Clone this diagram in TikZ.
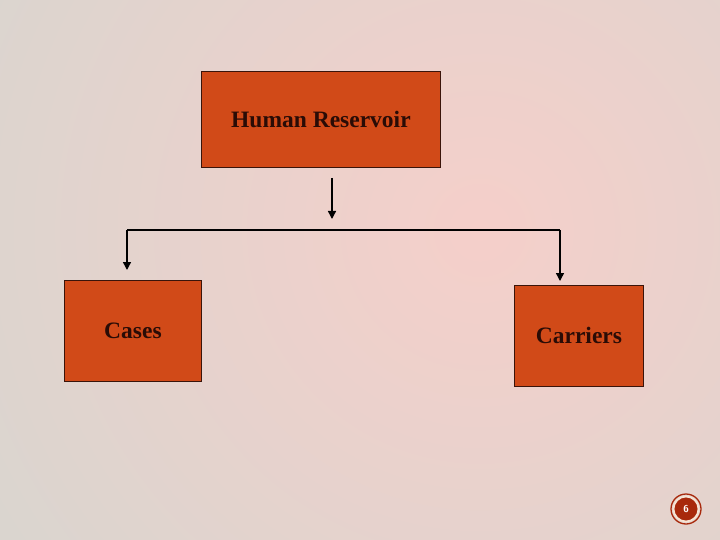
\documentclass[tikz,border=0pt]{standalone}
\usepackage{fontspec}
\setmainfont{Liberation Serif}
\usetikzlibrary{arrows.meta}
\definecolor{bgin}{HTML}{F5CFCA}
\definecolor{bgout}{HTML}{DAD5CF}
\definecolor{boxfill}{HTML}{D14A18}
\definecolor{boxline}{HTML}{3A140A}
\definecolor{txt}{HTML}{2A0C06}
\definecolor{badge}{HTML}{A8290C}
\definecolor{ring}{HTML}{F6E4D4}
\tikzset{
  box/.style={draw=boxline, line width=0.9pt, fill=boxfill, text=txt,
    font=\fontsize{23.5}{26}\selectfont\bfseries, inner sep=0pt, anchor=north west},
  conn/.style={line width=1.4pt, black},
  arr/.style={conn, -{Triangle[length=8pt,width=8pt]}}
}
\begin{document}
\begin{tikzpicture}[x=1pt,y=-1pt]
\useasboundingbox (0,0) rectangle (720,540);
\begin{scope}
\clip (0,0) rectangle (720,540);
\fill[bgout] (0,0) rectangle (720,540);
\shade[inner color=bgin, outer color=bgout] (480,230) circle (560);
\end{scope}
% boxes
\node[box, minimum width=239pt, minimum height=96pt] (hr) at (201,71) {Human Reservoir};
\node[box, minimum width=137pt, minimum height=101pt] (cases) at (64,280) {Cases};
\node[box, minimum width=129pt, minimum height=101pt] (carr) at (514,285) {Carriers};
% connectors
\coordinate (top) at (332,178);
\coordinate (mid) at (332,219);
\coordinate (jl) at (127,230);
\coordinate (jr) at (560,230);
\coordinate (el) at (127,270);
\coordinate (er) at (560,281);
\draw[arr] (top) -- (mid);
\draw[conn] (jl) -- (jr);
\draw[arr] (jl.center) -- (el);
\draw[arr] (jr.center) -- (er);
% page badge
\node[circle, fill=badge, draw=ring, line width=1.8pt, minimum size=25pt, inner sep=0pt,
  text=white, font=\fontsize{10}{11}\selectfont\sffamily\bfseries] (pg) at (686,509) {6};
\draw[badge, line width=1.3pt] (pg) circle (15);
\end{tikzpicture}
\end{document}
